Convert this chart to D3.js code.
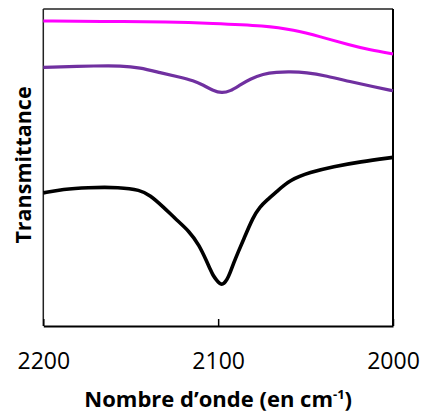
<!DOCTYPE html>
<html>
<head>
<meta charset="utf-8">
<script src="https://cdn.jsdelivr.net/npm/d3@7"></script>
<style>
  html, body { margin: 0; padding: 0; background: #fff; }
  svg { display: block; }
</style>
</head>
<body>
<svg id="chart" width="421" height="417"></svg>
<script>
// Wavenumber (cm-1) and transmittance (arbitrary units, 0-100)
const xTicks = [2200, 2100, 2000];

const magentaWn = [2200, 2168, 2127, 2104.7, 2072.2, 2057, 2041.7, 2024.6, 2013.2, 2000];
const magentaT  = [96.2, 96.1, 95.9, 95.5, 94.7, 93.4, 91.3, 88.6, 87.1, 85.8];

const purpleWn = [2200, 2167.6, 2156.1, 2144.7, 2133.2, 2121.8, 2114.2, 2108.5, 2102.7, 2098.0, 2093.3, 2087.6, 2081.8, 2074.4, 2066.6, 2059.0, 2049.6, 2038.1, 2024.6, 2011.3, 2000];
const purpleT  = [81.6, 82.1, 82.1, 81.5, 79.9, 78.5, 77.4, 76.0, 74.2, 73.5, 74.0, 76.0, 77.9, 79.5, 80.1, 80.2, 80.0, 78.9, 77.1, 75.5, 74.2];

const blackWn = [2200, 2188.7, 2175, 2156.1, 2144.7, 2139.0, 2131.4, 2123.7, 2116.7, 2110.9, 2106.4, 2104.6, 2102.9, 2100.8, 2099.2, 2098.0, 2096.7, 2095.0, 2093.2, 2091.3, 2088.6, 2085.6, 2079.9, 2076.1, 2072.2, 2066.5, 2058.9, 2047.5, 2034.1, 2018.9, 2000];
const blackT  = [42.0, 43.2, 43.7, 43.8, 42.9, 41.3, 37.6, 33.4, 30.0, 25.6, 20.2, 18.0, 15.9, 14.4, 13.4, 13.1, 13.4, 14.5, 16.7, 19.6, 23.3, 27.1, 34.5, 37.6, 39.7, 42.4, 46.1, 48.5, 50.3, 51.8, 53.2];

const seriesNames = ["magenta", "purple", "black"];
const seriesColors = ["#FF00FF", "#7030A0", "#000000"];

const svg = d3.select("#chart");
const mLeft = 43.3, mRight = 393, mTop = 9, mBottom = 326;

const x = d3.scaleLinear().domain([2200, 2000]).range([mLeft, mRight]);
const y = d3.scaleLinear().domain([0, 100]).range([mBottom, mTop]);

const line = d3.line()
  .x(d => x(d[0]))
  .y(d => y(d[1]))
  .curve(d3.curveBasis);

const series = [
  { wn: magentaWn, t: magentaT, w: 3 },
  { wn: purpleWn, t: purpleT, w: 3.2 },
  { wn: blackWn, t: blackT, w: 3.6 }
];

// frame: top and right edges
svg.append("line").attr("x1", mLeft).attr("x2", mRight).attr("y1", mTop).attr("y2", mTop)
  .attr("stroke", "#222").attr("stroke-width", 1.5);
svg.append("line").attr("x1", mRight).attr("x2", mRight).attr("y1", mTop).attr("y2", mBottom)
  .attr("stroke", "#000").attr("stroke-width", 2);

// left axis line
svg.append("line").attr("x1", mLeft).attr("x2", mLeft).attr("y1", mTop).attr("y2", mBottom)
  .attr("stroke", "#222").attr("stroke-width", 1.5);

series.forEach((s, i) => {
  svg.append("path")
    .datum(s.wn.map((w, j) => [w, s.t[j]]))
    .attr("class", "series " + seriesNames[i])
    .attr("fill", "none")
    .attr("stroke", seriesColors[i])
    .attr("stroke-width", s.w)
    .attr("stroke-linejoin", "round")
    .attr("d", line);
});

// bottom axis
const xAxis = d3.axisBottom(x)
  .tickValues(xTicks)
  .tickFormat(d3.format("d"))
  .tickSizeInner(-7)
  .tickSizeOuter(0)
  .tickPadding(27);

const gx = svg.append("g").attr("transform", `translate(0,${mBottom})`).call(xAxis);
gx.select(".domain").attr("stroke", "#000").attr("stroke-width", 2.2);
gx.selectAll(".tick line").attr("stroke", "#000").attr("stroke-width", 1.5);
gx.selectAll(".tick text")
  .attr("fill", "#000")
  .style("font-family", "'Open Sans', sans-serif")
  .style("font-size", "23px");

// x title
const xt = svg.append("text")
  .attr("x", 218.2).attr("y", 407)
  .attr("text-anchor", "middle")
  .style("font-family", "'Open Sans', sans-serif")
  .style("font-size", "22px")
  .style("font-weight", "bold")
  .attr("fill", "#000");
xt.append("tspan").text("Nombre d\u2019onde (en cm");
xt.append("tspan").attr("dy", -8).style("font-size", "13px").text("-1");
xt.append("tspan").attr("dy", 8).text(")");

// y title
svg.append("text")
  .attr("transform", "translate(31,165) rotate(-90)")
  .attr("text-anchor", "middle")
  .style("font-family", "'Open Sans', sans-serif")
  .style("font-size", "21.5px")
  .style("font-weight", "bold")
  .attr("fill", "#000")
  .text("Transmittance");
</script>
</body>
</html>
